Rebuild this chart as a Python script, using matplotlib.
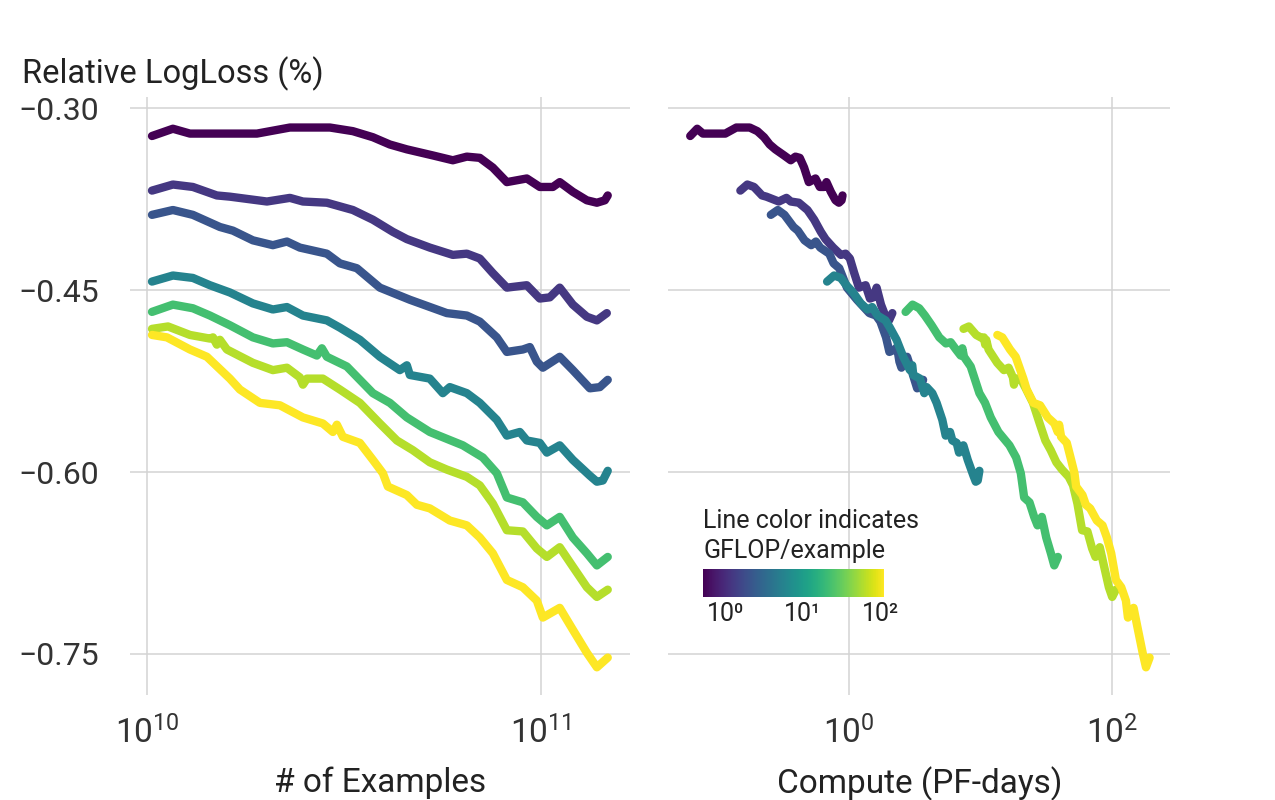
import numpy as np
import matplotlib
matplotlib.use("Agg")
from matplotlib import pyplot as plt
from matplotlib import ticker
from matplotlib.colors import LogNorm
import matplotlib.cm as cm

plt.rcParams['font.family'] = ['Roboto', 'DejaVu Sans']
plt.rcParams['mathtext.fontset'] = 'custom'
plt.rcParams['mathtext.rm'] = 'Roboto'
plt.rcParams['mathtext.it'] = 'Roboto:italic'
plt.rcParams['mathtext.bf'] = 'Roboto:bold'

# GFLOP per example for each model (dark -> yellow)
gflop = [0.52, 1.25, 2.13, 5.7, 22.5, 62, 112]

# examples seen (x 1e10) and relative logloss for each run
ex1 = [1.030, 1.164, 1.286, 1.505, 1.624, 1.902, 2.307, 2.914, 3.333, 3.747, 4.138, 4.570, 5.319, 5.979, 6.490, 7.000, 7.553, 8.199, 9.215, 9.942, 10.73, 11.17, 12.06, 13.09, 13.88, 14.54, 14.79]
ll1 = [-0.323, -0.317, -0.321, -0.321, -0.321, -0.321, -0.316, -0.316, -0.319, -0.324, -0.330, -0.334, -0.339, -0.343, -0.340, -0.341, -0.349, -0.361, -0.358, -0.365, -0.365, -0.361, -0.369, -0.376, -0.378, -0.376, -0.372]

ex2 = [1.030, 1.164, 1.308, 1.505, 1.624, 2.017, 2.307, 2.489, 2.863, 3.333, 3.747, 4.211, 4.570, 5.227, 5.979, 6.490, 7.000, 7.553, 8.199, 9.215, 9.942, 10.54, 11.17, 12.06, 13.09, 13.88, 14.71]
ll2 = [-0.368, -0.363, -0.365, -0.372, -0.373, -0.377, -0.374, -0.377, -0.378, -0.384, -0.392, -0.402, -0.408, -0.415, -0.421, -0.420, -0.424, -0.436, -0.448, -0.446, -0.457, -0.456, -0.448, -0.462, -0.472, -0.475, -0.469]

ex3 = [1.030, 1.164, 1.308, 1.532, 1.653, 1.858, 2.088, 2.267, 2.445, 2.863, 3.090, 3.412, 3.903, 4.651, 5.773, 6.490, 7.000, 7.732, 8.199, 9.002, 9.378, 9.768, 10.12, 11.17, 12.06, 13.32, 14.12, 14.79]
ll3 = [-0.388, -0.384, -0.388, -0.398, -0.401, -0.409, -0.413, -0.410, -0.415, -0.420, -0.428, -0.432, -0.448, -0.458, -0.469, -0.471, -0.476, -0.489, -0.501, -0.499, -0.497, -0.509, -0.514, -0.505, -0.516, -0.531, -0.530, -0.524]

ex4 = [1.030, 1.164, 1.308, 1.445, 1.624, 1.858, 2.088, 2.267, 2.489, 2.863, 3.090, 3.472, 3.903, 4.387, 4.570, 4.651, 5.227, 5.640, 5.875, 6.490, 7.000, 7.732, 8.199, 8.845, 9.215, 9.942, 10.36, 11.17, 12.06, 13.32, 13.88, 14.37, 14.79]
ll4 = [-0.443, -0.438, -0.440, -0.446, -0.452, -0.461, -0.466, -0.464, -0.471, -0.475, -0.481, -0.491, -0.505, -0.516, -0.512, -0.520, -0.523, -0.535, -0.530, -0.535, -0.543, -0.557, -0.570, -0.567, -0.574, -0.576, -0.584, -0.578, -0.590, -0.603, -0.608, -0.607, -0.599]

ex5 = [1.030, 1.164, 1.308, 1.445, 1.624, 1.858, 2.088, 2.267, 2.489, 2.701, 2.781, 2.863, 3.218, 3.747, 4.138, 4.570, 5.227, 6.339, 7.124, 7.732, 8.199, 9.002, 9.768, 10.36, 11.17, 12.06, 13.09, 13.88, 14.79]
ll5 = [-0.468, -0.462, -0.465, -0.471, -0.479, -0.489, -0.494, -0.493, -0.499, -0.504, -0.498, -0.505, -0.513, -0.535, -0.543, -0.555, -0.567, -0.578, -0.588, -0.601, -0.621, -0.625, -0.637, -0.644, -0.637, -0.654, -0.667, -0.677, -0.670]

ex6 = [1.030, 1.131, 1.286, 1.445, 1.471, 1.505, 1.532, 1.596, 1.858, 2.088, 2.267, 2.445, 2.489, 2.548, 2.797, 3.090, 3.472, 3.903, 4.311, 4.733, 5.227, 5.773, 6.490, 7.000, 7.553, 8.199, 9.002, 9.768, 10.36, 11.17, 12.06, 13.09, 13.88, 14.79]
ll6 = [-0.482, -0.480, -0.487, -0.490, -0.489, -0.495, -0.491, -0.499, -0.510, -0.516, -0.514, -0.522, -0.528, -0.523, -0.523, -0.532, -0.543, -0.560, -0.574, -0.582, -0.592, -0.598, -0.604, -0.611, -0.626, -0.648, -0.649, -0.663, -0.670, -0.662, -0.678, -0.695, -0.703, -0.697]

ex7 = [1.030, 1.124, 1.286, 1.420, 1.624, 1.722, 1.936, 2.176, 2.489, 2.797, 2.966, 3.036, 3.144, 3.472, 3.747, 3.972, 4.090, 4.570, 4.845, 5.227, 5.875, 6.490, 7.000, 7.553, 8.199, 9.002, 9.768, 10.12, 11.17, 12.06, 13.09, 13.88, 14.79]
ll7 = [-0.487, -0.489, -0.499, -0.505, -0.523, -0.532, -0.543, -0.545, -0.555, -0.560, -0.567, -0.561, -0.571, -0.576, -0.590, -0.601, -0.612, -0.619, -0.627, -0.630, -0.640, -0.644, -0.654, -0.667, -0.689, -0.695, -0.706, -0.720, -0.712, -0.730, -0.749, -0.761, -0.753]

examples = [ex1, ex2, ex3, ex4, ex5, ex6, ex7]
logloss = [ll1, ll2, ll3, ll4, ll5, ll6, ll7]

yticks = [-0.30, -0.45, -0.60, -0.75]
cb_ticks = [1, 10, 100]
cb_labels = ['10\u2070', '10\u00b9', '10\u00b2']
FLOP_PER_PFDAY = 8.64e19

norm = LogNorm(vmin=min(gflop), vmax=max(gflop))
cmap = plt.get_cmap('viridis')

fig = plt.figure(figsize=(12.75, 8), dpi=100)
axL = fig.add_axes([0.102, 0.131, 0.392, 0.7475])
axR = fig.add_axes([0.524, 0.131, 0.394, 0.7475])

txt = '#333333'
for i in range(len(gflop)):
    x = np.array(examples[i]) * 1e10
    y = np.array(logloss[i])
    c = cmap(norm(gflop[i]))
    pf = x * gflop[i] * 1e9 / FLOP_PER_PFDAY
    axL.plot(x, y, color=c, lw=6, solid_capstyle='round', solid_joinstyle='round')
    axR.plot(pf, y, color=c, lw=6, solid_capstyle='round', solid_joinstyle='round')

for ax in (axL, axR):
    ax.set_xscale('log')
    ax.set_ylim(-0.784, -0.291)
    ax.set_yticks(yticks)
    ax.xaxis.set_minor_locator(ticker.NullLocator())
    ax.grid(True, color='#d3d3d3', lw=1.1)
    ax.set_axisbelow(True)
    for s in ax.spines.values():
        s.set_visible(False)
    ax.tick_params(length=0, colors=txt)
    ax.tick_params(axis='x', labelsize=24, pad=15)
    ax.tick_params(axis='y', labelsize=23, pad=22)

axL.set_xlim(9.06e9, 1.683e11)
axL.set_xticks([1e10, 1e11])
axL.xaxis.set_major_formatter(ticker.LogFormatterMathtext())
axL.yaxis.set_major_formatter(ticker.FuncFormatter(lambda v, p: ('%.2f' % v).replace('-', '\u2212')))
axL.set_xlabel('# of Examples', fontsize=24, color='#222222', labelpad=12)

axR.set_xlim(0.0421, 276)
axR.set_xticks([1, 100])
axR.xaxis.set_major_formatter(ticker.LogFormatterMathtext())
axR.tick_params(axis='y', labelleft=False)
axR.set_xlabel('Compute (PF-days)', fontsize=24, color='#222222', labelpad=12)

fig.text(0.017, 0.896, 'Relative LogLoss (%)', fontsize=23.5, color='#222222',
         ha='left', va='baseline')

# colour key
fig.text(0.5514, 0.34, 'Line color indicates', fontsize=18, color='#222222',
         ha='left', va='baseline')
fig.text(0.5514, 0.3025, 'GFLOP/example', fontsize=18, color='#222222',
         ha='left', va='baseline')
cax = fig.add_axes([0.5514, 0.254, 0.142, 0.035])
cb = fig.colorbar(cm.ScalarMappable(norm=norm, cmap=cmap), cax=cax, orientation='horizontal')
cb.outline.set_visible(False)
cb.set_ticks(cb_ticks)
cb.set_ticklabels(cb_labels)
cb.ax.xaxis.set_minor_locator(ticker.NullLocator())
cb.ax.tick_params(length=0, labelsize=18, pad=4, colors='#222222')

fig.savefig('out.png', dpi=100)
